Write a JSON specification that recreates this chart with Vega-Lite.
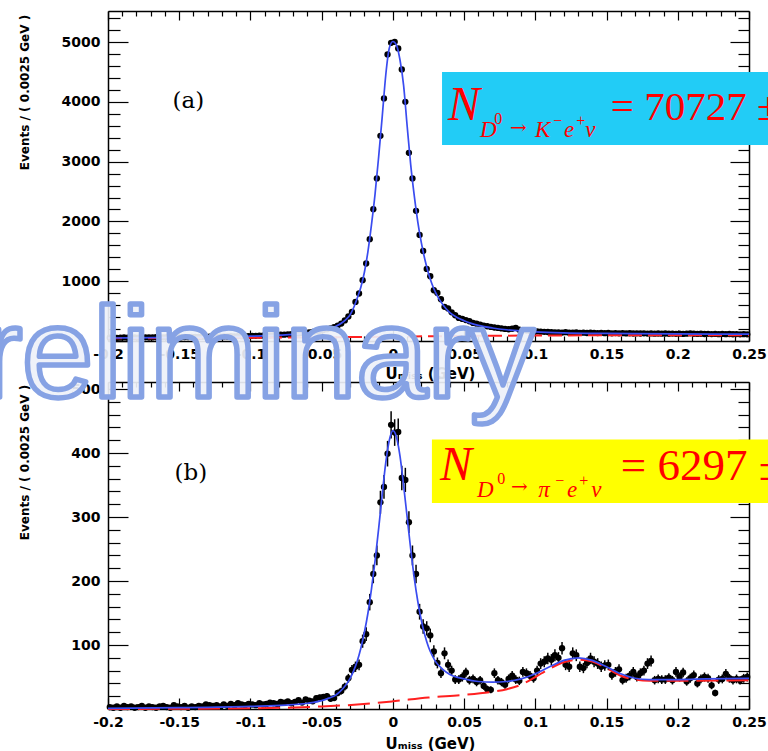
{
"$schema":"https://vega.github.io/schema/vega-lite/v6.json",
"autosize":{"type":"none"},
"width":641,"height":698,
"padding":{"left":108,"top":11,"right":19,"bottom":42},
"background":"white",
"config":{"view":{"stroke":null}},
"resolve":{"scale":{"y":"independent"},"axis":{"x":"independent","y":"independent"}},
"datasets":{
"one":[{}],
"a":[{"x":-0.19875,"y":55},{"x":-0.19625,"y":58},{"x":-0.19375,"y":52},{"x":-0.19125,"y":56},{"x":-0.18875,"y":60},{"x":-0.18625,"y":54},{"x":-0.18375,"y":57},{"x":-0.18125,"y":61},{"x":-0.17875,"y":56},{"x":-0.17625,"y":59},{"x":-0.17375,"y":62},{"x":-0.17125,"y":58},{"x":-0.16875,"y":60},{"x":-0.16625,"y":63},{"x":-0.16375,"y":59},{"x":-0.16125,"y":62},{"x":-0.15875,"y":65},{"x":-0.15625,"y":61},{"x":-0.15375,"y":64},{"x":-0.15125,"y":66},{"x":-0.14875,"y":63},{"x":-0.14625,"y":67},{"x":-0.14375,"y":65},{"x":-0.14125,"y":68},{"x":-0.13875,"y":70},{"x":-0.13625,"y":67},{"x":-0.13375,"y":71},{"x":-0.13125,"y":69},{"x":-0.12875,"y":73},{"x":-0.12625,"y":71},{"x":-0.12375,"y":75},{"x":-0.12125,"y":73},{"x":-0.11875,"y":77},{"x":-0.11625,"y":75},{"x":-0.11375,"y":79},{"x":-0.11125,"y":78},{"x":-0.10875,"y":82},{"x":-0.10625,"y":80},{"x":-0.10375,"y":84},{"x":-0.10125,"y":83},{"x":-0.09875,"y":87},{"x":-0.09625,"y":86},{"x":-0.09375,"y":90},{"x":-0.09125,"y":89},{"x":-0.08875,"y":94},{"x":-0.08625,"y":93},{"x":-0.08375,"y":98},{"x":-0.08125,"y":99},{"x":-0.07875,"y":104},{"x":-0.07625,"y":106},{"x":-0.07375,"y":111},{"x":-0.07125,"y":114},{"x":-0.06875,"y":120},{"x":-0.06625,"y":124},{"x":-0.06375,"y":131},{"x":-0.06125,"y":138},{"x":-0.05875,"y":145},{"x":-0.05625,"y":152},{"x":-0.05375,"y":160},{"x":-0.05125,"y":170},{"x":-0.04875,"y":182},{"x":-0.04625,"y":195},{"x":-0.04375,"y":212},{"x":-0.04125,"y":232},{"x":-0.03875,"y":258},{"x":-0.03625,"y":292},{"x":-0.03375,"y":345},{"x":-0.03125,"y":410},{"x":-0.02875,"y":486},{"x":-0.02625,"y":654},{"x":-0.02375,"y":794},{"x":-0.02125,"y":1017},{"x":-0.01875,"y":1296},{"x":-0.01625,"y":1703},{"x":-0.01375,"y":2205},{"x":-0.01125,"y":2719},{"x":-0.00875,"y":3432},{"x":-0.00625,"y":4058},{"x":-0.00375,"y":4794},{"x":-0.00125,"y":4988},{"x":0.00125,"y":5005},{"x":0.00375,"y":4894},{"x":0.00625,"y":4543},{"x":0.00875,"y":4001},{"x":0.01125,"y":3147},{"x":0.01375,"y":2719},{"x":0.01625,"y":2177},{"x":0.01875,"y":1775},{"x":0.02125,"y":1505},{"x":0.02375,"y":1205},{"x":0.02625,"y":1084},{"x":0.02875,"y":849},{"x":0.03125,"y":805},{"x":0.03375,"y":699},{"x":0.03625,"y":571},{"x":0.03875,"y":545},{"x":0.04125,"y":480},{"x":0.04375,"y":431},{"x":0.04625,"y":386},{"x":0.04875,"y":370},{"x":0.05125,"y":350},{"x":0.05375,"y":330},{"x":0.05625,"y":302},{"x":0.05875,"y":290},{"x":0.06125,"y":275},{"x":0.06375,"y":258},{"x":0.06625,"y":247},{"x":0.06875,"y":236},{"x":0.07125,"y":226},{"x":0.07375,"y":219},{"x":0.07625,"y":210},{"x":0.07875,"y":202},{"x":0.08125,"y":197},{"x":0.08375,"y":205},{"x":0.08625,"y":219},{"x":0.08875,"y":190},{"x":0.09125,"y":180},{"x":0.09375,"y":175},{"x":0.09625,"y":168},{"x":0.09875,"y":165},{"x":0.10125,"y":160},{"x":0.10375,"y":156},{"x":0.10625,"y":153},{"x":0.10875,"y":151},{"x":0.11125,"y":148},{"x":0.11375,"y":145},{"x":0.11625,"y":143},{"x":0.11875,"y":141},{"x":0.12125,"y":147},{"x":0.12375,"y":140},{"x":0.12625,"y":138},{"x":0.12875,"y":143},{"x":0.13125,"y":136},{"x":0.13375,"y":139},{"x":0.13625,"y":134},{"x":0.13875,"y":140},{"x":0.14125,"y":135},{"x":0.14375,"y":132},{"x":0.14625,"y":137},{"x":0.14875,"y":131},{"x":0.15125,"y":134},{"x":0.15375,"y":129},{"x":0.15625,"y":133},{"x":0.15875,"y":128},{"x":0.16125,"y":131},{"x":0.16375,"y":127},{"x":0.16625,"y":130},{"x":0.16875,"y":126},{"x":0.17125,"y":129},{"x":0.17375,"y":125},{"x":0.17625,"y":128},{"x":0.17875,"y":124},{"x":0.18125,"y":127},{"x":0.18375,"y":123},{"x":0.18625,"y":126},{"x":0.18875,"y":122},{"x":0.19125,"y":125},{"x":0.19375,"y":121},{"x":0.19625,"y":124},{"x":0.19875,"y":120},{"x":0.20125,"y":123},{"x":0.20375,"y":119},{"x":0.20625,"y":122},{"x":0.20875,"y":128},{"x":0.21125,"y":121},{"x":0.21375,"y":118},{"x":0.21625,"y":121},{"x":0.21875,"y":117},{"x":0.22125,"y":120},{"x":0.22375,"y":116},{"x":0.22625,"y":119},{"x":0.22875,"y":115},{"x":0.23125,"y":118},{"x":0.23375,"y":114},{"x":0.23625,"y":117},{"x":0.23875,"y":113},{"x":0.24125,"y":116},{"x":0.24375,"y":112},{"x":0.24625,"y":115},{"x":0.24875,"y":111}],
"afit":[{"x":-0.2,"y":50},{"x":-0.15,"y":60},{"x":-0.1,"y":80},{"x":-0.08,"y":97},{"x":-0.07,"y":110},{"x":-0.06,"y":135},{"x":-0.05,"y":168},{"x":-0.045,"y":198},{"x":-0.04,"y":245},{"x":-0.035,"y":318},{"x":-0.0325,"y":370},{"x":-0.03,"y":440},{"x":-0.0275,"y":560},{"x":-0.025,"y":720},{"x":-0.0225,"y":900},{"x":-0.02,"y":1150},{"x":-0.0175,"y":1500},{"x":-0.015,"y":1950},{"x":-0.0125,"y":2460},{"x":-0.01,"y":3080},{"x":-0.0075,"y":3750},{"x":-0.005,"y":4450},{"x":-0.0025,"y":4900},{"x":0,"y":5010},{"x":0.0025,"y":4950},{"x":0.005,"y":4700},{"x":0.0075,"y":4280},{"x":0.01,"y":3600},{"x":0.0125,"y":2950},{"x":0.015,"y":2430},{"x":0.0175,"y":1990},{"x":0.02,"y":1640},{"x":0.0225,"y":1360},{"x":0.025,"y":1130},{"x":0.0275,"y":950},{"x":0.03,"y":810},{"x":0.0325,"y":700},{"x":0.035,"y":610},{"x":0.0375,"y":535},{"x":0.04,"y":475},{"x":0.045,"y":395},{"x":0.05,"y":340},{"x":0.055,"y":295},{"x":0.06,"y":262},{"x":0.07,"y":218},{"x":0.08,"y":188},{"x":0.09,"y":168},{"x":0.1,"y":153},{"x":0.12,"y":136},{"x":0.15,"y":126},{"x":0.2,"y":119},{"x":0.25,"y":115}],
"abkg":[{"x":-0.2,"y":45},{"x":-0.1,"y":55},{"x":-0.05,"y":62},{"x":0,"y":72},{"x":0.05,"y":85},{"x":0.1,"y":92},{"x":0.15,"y":95},{"x":0.2,"y":96},{"x":0.25,"y":96}],
"b":[{"x":-0.19875,"y":3,"e":1.7},{"x":-0.19625,"y":2,"e":1.4},{"x":-0.19375,"y":4,"e":2},{"x":-0.19125,"y":2,"e":1.4},{"x":-0.18875,"y":5,"e":2.2},{"x":-0.18625,"y":3,"e":1.7},{"x":-0.18375,"y":4,"e":2},{"x":-0.18125,"y":2,"e":1.4},{"x":-0.17875,"y":3,"e":1.7},{"x":-0.17625,"y":5,"e":2.2},{"x":-0.17375,"y":2,"e":1.4},{"x":-0.17125,"y":4,"e":2},{"x":-0.16875,"y":3,"e":1.7},{"x":-0.16625,"y":2,"e":1.4},{"x":-0.16375,"y":4,"e":2},{"x":-0.16125,"y":5,"e":2.2},{"x":-0.15875,"y":3,"e":1.7},{"x":-0.15625,"y":2,"e":1.4},{"x":-0.15375,"y":6,"e":2.4},{"x":-0.15125,"y":4,"e":2},{"x":-0.14875,"y":3,"e":1.7},{"x":-0.14625,"y":5,"e":2.2},{"x":-0.14375,"y":2,"e":1.4},{"x":-0.14125,"y":4,"e":2},{"x":-0.13875,"y":3,"e":1.7},{"x":-0.13625,"y":5,"e":2.2},{"x":-0.13375,"y":4,"e":2},{"x":-0.13125,"y":7,"e":2.6},{"x":-0.12875,"y":6,"e":2.4},{"x":-0.12625,"y":5,"e":2.2},{"x":-0.12375,"y":6,"e":2.4},{"x":-0.12125,"y":4,"e":2},{"x":-0.11875,"y":7,"e":2.6},{"x":-0.11625,"y":5,"e":2.2},{"x":-0.11375,"y":8,"e":2.8},{"x":-0.11125,"y":6,"e":2.4},{"x":-0.10875,"y":9,"e":3},{"x":-0.10625,"y":7,"e":2.6},{"x":-0.10375,"y":6,"e":2.4},{"x":-0.10125,"y":8,"e":2.8},{"x":-0.09875,"y":7,"e":2.6},{"x":-0.09625,"y":6,"e":2.4},{"x":-0.09375,"y":9,"e":3},{"x":-0.09125,"y":7,"e":2.6},{"x":-0.08875,"y":8,"e":2.8},{"x":-0.08625,"y":10,"e":3.2},{"x":-0.08375,"y":9,"e":3},{"x":-0.08125,"y":8,"e":2.8},{"x":-0.07875,"y":11,"e":3.3},{"x":-0.07625,"y":10,"e":3.2},{"x":-0.07375,"y":12,"e":3.5},{"x":-0.07125,"y":9,"e":3},{"x":-0.06875,"y":11,"e":3.3},{"x":-0.06625,"y":14,"e":3.7},{"x":-0.06375,"y":10,"e":3.2},{"x":-0.06125,"y":15,"e":3.9},{"x":-0.05875,"y":13,"e":3.6},{"x":-0.05625,"y":12,"e":3.5},{"x":-0.05375,"y":17,"e":4.1},{"x":-0.05125,"y":18,"e":4.2},{"x":-0.04875,"y":19,"e":4.4},{"x":-0.04625,"y":20,"e":4.5},{"x":-0.04375,"y":16,"e":4},{"x":-0.04125,"y":17,"e":4.1},{"x":-0.03875,"y":25,"e":5},{"x":-0.03625,"y":28,"e":5.3},{"x":-0.03375,"y":35,"e":5.9},{"x":-0.03125,"y":48,"e":6.9},{"x":-0.02875,"y":61,"e":7.8},{"x":-0.02625,"y":66,"e":8.1},{"x":-0.02375,"y":69,"e":8.3},{"x":-0.02125,"y":106,"e":10.3},{"x":-0.01875,"y":117,"e":10.8},{"x":-0.01625,"y":167,"e":12.9},{"x":-0.01375,"y":211,"e":14.5},{"x":-0.01125,"y":240,"e":15.5},{"x":-0.00875,"y":323,"e":18},{"x":-0.00625,"y":347,"e":18.6},{"x":-0.00375,"y":399,"e":20},{"x":-0.00125,"y":444,"e":21.1},{"x":0.00125,"y":432,"e":20.8},{"x":0.00375,"y":433,"e":20.8},{"x":0.00625,"y":361,"e":19},{"x":0.00875,"y":358,"e":18.9},{"x":0.01125,"y":292,"e":17.1},{"x":0.01375,"y":240,"e":15.5},{"x":0.01625,"y":211,"e":14.5},{"x":0.01875,"y":152,"e":12.3},{"x":0.02125,"y":129,"e":11.4},{"x":0.02375,"y":126,"e":11.2},{"x":0.02625,"y":115,"e":10.7},{"x":0.02875,"y":90,"e":9.5},{"x":0.03125,"y":72,"e":8.5},{"x":0.03375,"y":56,"e":7.5},{"x":0.03625,"y":87,"e":9.3},{"x":0.03875,"y":69,"e":8.3},{"x":0.04125,"y":60,"e":7.7},{"x":0.04375,"y":46,"e":6.8},{"x":0.04625,"y":46,"e":6.8},{"x":0.04875,"y":50,"e":7.1},{"x":0.05125,"y":57,"e":7.5},{"x":0.05375,"y":45,"e":6.7},{"x":0.05625,"y":47,"e":6.9},{"x":0.05875,"y":42,"e":6.5},{"x":0.06125,"y":45,"e":6.7},{"x":0.06375,"y":36,"e":6},{"x":0.06625,"y":31,"e":5.6},{"x":0.06875,"y":30,"e":5.5},{"x":0.07125,"y":56,"e":7.5},{"x":0.07375,"y":45,"e":6.7},{"x":0.07625,"y":42,"e":6.5},{"x":0.07875,"y":38,"e":6.2},{"x":0.08125,"y":47,"e":6.9},{"x":0.08375,"y":52,"e":7.2},{"x":0.08625,"y":46,"e":6.8},{"x":0.08875,"y":44,"e":6.6},{"x":0.09125,"y":58,"e":7.6},{"x":0.09375,"y":56,"e":7.5},{"x":0.09625,"y":52,"e":7.2},{"x":0.09875,"y":48,"e":6.9},{"x":0.10125,"y":60,"e":7.7},{"x":0.10375,"y":71,"e":8.4},{"x":0.10625,"y":74,"e":8.6},{"x":0.10875,"y":79,"e":8.9},{"x":0.11125,"y":77,"e":8.8},{"x":0.11375,"y":84,"e":9.2},{"x":0.11625,"y":80,"e":8.9},{"x":0.11875,"y":95,"e":9.7},{"x":0.12125,"y":69,"e":8.3},{"x":0.12375,"y":66,"e":8.1},{"x":0.12625,"y":87,"e":9.3},{"x":0.12875,"y":84,"e":9.2},{"x":0.13125,"y":66,"e":8.1},{"x":0.13375,"y":64,"e":8},{"x":0.13625,"y":72,"e":8.5},{"x":0.13875,"y":79,"e":8.9},{"x":0.14125,"y":74,"e":8.6},{"x":0.14375,"y":71,"e":8.4},{"x":0.14625,"y":66,"e":8.1},{"x":0.14875,"y":68,"e":8.2},{"x":0.15125,"y":69,"e":8.3},{"x":0.15375,"y":53,"e":7.3},{"x":0.15625,"y":58,"e":7.6},{"x":0.15875,"y":62,"e":7.9},{"x":0.16125,"y":45,"e":6.7},{"x":0.16375,"y":48,"e":6.9},{"x":0.16625,"y":52,"e":7.2},{"x":0.16875,"y":58,"e":7.6},{"x":0.17125,"y":50,"e":7.1},{"x":0.17375,"y":56,"e":7.5},{"x":0.17625,"y":60,"e":7.7},{"x":0.17875,"y":71,"e":8.4},{"x":0.18125,"y":75,"e":8.7},{"x":0.18375,"y":45,"e":6.7},{"x":0.18625,"y":47,"e":6.9},{"x":0.18875,"y":46,"e":6.8},{"x":0.19125,"y":46,"e":6.8},{"x":0.19375,"y":49,"e":7},{"x":0.19625,"y":45,"e":6.7},{"x":0.19875,"y":58,"e":7.6},{"x":0.20125,"y":50,"e":7.1},{"x":0.20375,"y":57,"e":7.5},{"x":0.20625,"y":43,"e":6.6},{"x":0.20875,"y":48,"e":6.9},{"x":0.21125,"y":53,"e":7.3},{"x":0.21375,"y":40,"e":6.3},{"x":0.21625,"y":47,"e":6.9},{"x":0.21875,"y":50,"e":7.1},{"x":0.22125,"y":48,"e":6.9},{"x":0.22375,"y":37,"e":6.1},{"x":0.22625,"y":25,"e":5},{"x":0.22875,"y":46,"e":6.8},{"x":0.23125,"y":47,"e":6.9},{"x":0.23375,"y":55,"e":7.4},{"x":0.23625,"y":48,"e":6.9},{"x":0.23875,"y":45,"e":6.7},{"x":0.24125,"y":47,"e":6.9},{"x":0.24375,"y":45,"e":6.7},{"x":0.24625,"y":48,"e":6.9},{"x":0.24875,"y":50,"e":7.1}],
"bfit":[{"x":-0.2,"y":1},{"x":-0.15,"y":2},{"x":-0.1,"y":4},{"x":-0.075,"y":6},{"x":-0.06,"y":9},{"x":-0.05,"y":13},{"x":-0.045,"y":17},{"x":-0.04,"y":22},{"x":-0.035,"y":32},{"x":-0.03,"y":48},{"x":-0.0275,"y":60},{"x":-0.025,"y":75},{"x":-0.0225,"y":95},{"x":-0.02,"y":120},{"x":-0.0175,"y":150},{"x":-0.015,"y":188},{"x":-0.0125,"y":232},{"x":-0.01,"y":282},{"x":-0.0075,"y":335},{"x":-0.005,"y":385},{"x":-0.0025,"y":420},{"x":0,"y":435},{"x":0.0025,"y":425},{"x":0.005,"y":395},{"x":0.0075,"y":350},{"x":0.01,"y":300},{"x":0.0125,"y":250},{"x":0.015,"y":205},{"x":0.0175,"y":168},{"x":0.02,"y":138},{"x":0.0225,"y":115},{"x":0.025,"y":97},{"x":0.0275,"y":84},{"x":0.03,"y":74},{"x":0.035,"y":62},{"x":0.04,"y":54},{"x":0.05,"y":47},{"x":0.06,"y":43},{"x":0.07,"y":42},{"x":0.08,"y":43},{"x":0.09,"y":47},{"x":0.1,"y":55},{"x":0.11,"y":66},{"x":0.12,"y":76},{"x":0.13,"y":80},{"x":0.14,"y":76},{"x":0.15,"y":66},{"x":0.16,"y":55},{"x":0.17,"y":48},{"x":0.18,"y":46},{"x":0.2,"y":46},{"x":0.22,"y":47},{"x":0.25,"y":48}],
"bbkg":[{"x":-0.2,"y":0},{"x":-0.1,"y":1},{"x":-0.05,"y":4},{"x":-0.025,"y":7},{"x":0,"y":12},{"x":0.025,"y":18},{"x":0.05,"y":22},{"x":0.07,"y":27},{"x":0.08,"y":31},{"x":0.09,"y":38},{"x":0.1,"y":50},{"x":0.11,"y":63},{"x":0.12,"y":73},{"x":0.13,"y":77},{"x":0.14,"y":74},{"x":0.15,"y":64},{"x":0.16,"y":52},{"x":0.17,"y":46},{"x":0.18,"y":44},{"x":0.2,"y":44},{"x":0.25,"y":45}]
},
"layer":[
{"data":{"name":"a"},"mark":{"type":"point","filled":true,"color":"black","size":40,"opacity":1},
 "encoding":{
  "x":{"field":"x","type":"quantitative","scale":{"domain":[-0.2,0.25],"nice":false,"zero":false},
   "axis":{"orient":"bottom","offset":-368,"values":[-0.2,-0.19,-0.18,-0.17,-0.16,-0.15,-0.14,-0.13,-0.12,-0.11,-0.1,-0.09,-0.08,-0.07,-0.06,-0.05,-0.04,-0.03,-0.02,-0.01,0,0.01,0.02,0.03,0.04,0.05,0.06,0.07,0.08,0.09,0.1,0.11,0.12,0.13,0.14,0.15,0.16,0.17,0.18,0.19,0.2,0.21,0.22,0.23,0.24,0.25],
    "format":"~g","labelExpr":"abs(datum.value*20-round(datum.value*20))<0.001 ? replace(datum.label,'−','-') : ''",
    "tickSize":{"condition":{"test":"abs(datum.value*20-round(datum.value*20))<0.001","value":-11},"value":-5},
    "labelPadding":17,"labelFlush":false,"labelOverlap":false,"labelFont":"DejaVu Sans","labelFontWeight":"bold","labelFontSize":14,"labelColor":"black",
    "tickColor":"black","tickWidth":1.2,"domainColor":"black","domainWidth":1.5,"grid":false,
    "title":"Uₘᵢₛₛ (GeV)","titleFont":"DejaVu Sans","titleFontWeight":"bold","titleFontSize":15,"titleColor":"black","titleX":322,"titleY":37,"titleAlign":"center","titleBaseline":"alphabetic"}},
  "y":{"field":"y","type":"quantitative","scale":{"domain":[0,5520],"range":[330,0],"nice":false},
   "axis":{"orient":"left","values":[0,200,400,600,800,1000,1200,1400,1600,1800,2000,2200,2400,2600,2800,3000,3200,3400,3600,3800,4000,4200,4400,4600,4800,5000,5200,5400],
    "format":"d","labelExpr":"datum.value % 1000 === 0 && datum.value > 0 ? datum.label : ''",
    "tickSize":{"condition":{"test":"datum.value % 1000 === 0","value":-20},"value":-12},
    "labelPadding":28,"labelFlush":false,"labelOverlap":false,"labelFont":"DejaVu Sans","labelFontWeight":"bold","labelFontSize":14,"labelColor":"black",
    "tickColor":"black","tickWidth":1.2,"domainColor":"black","domainWidth":1.5,"grid":false,
    "title":"Events / ( 0.0025 GeV )","titleFont":"DejaVu Sans","titleFontWeight":"bold","titleFontSize":12,"titleColor":"black","titleAngle":270,"titleX":-84,"titleY":81,"titleAlign":"center","titleBaseline":"middle"}}}},
{"data":{"name":"abkg"},"mark":{"type":"line","color":"#ff2020","strokeWidth":2,"strokeDash":[14,6],"interpolate":"monotone"},
 "encoding":{"x":{"field":"x","type":"quantitative","axis":null},"y":{"field":"y","type":"quantitative","scale":{"domain":[0,5520],"range":[330,0],"nice":false},"axis":null}}},
{"data":{"name":"afit"},"mark":{"type":"line","color":"#3a4cf0","strokeWidth":1.7,"interpolate":"monotone"},
 "encoding":{
  "x":{"field":"x","type":"quantitative","axis":{"orient":"top","values":[-0.2,-0.19,-0.18,-0.17,-0.16,-0.15,-0.14,-0.13,-0.12,-0.11,-0.1,-0.09,-0.08,-0.07,-0.06,-0.05,-0.04,-0.03,-0.02,-0.01,0,0.01,0.02,0.03,0.04,0.05,0.06,0.07,0.08,0.09,0.1,0.11,0.12,0.13,0.14,0.15,0.16,0.17,0.18,0.19,0.2,0.21,0.22,0.23,0.24,0.25],"labels":false,"tickSize":{"condition":{"test":"abs(datum.value*20-round(datum.value*20))<0.001","value":-9},"value":-5},"tickColor":"black","tickWidth":1.2,"domainColor":"black","domainWidth":1.5,"grid":false,"title":null}},
  "y":{"field":"y","type":"quantitative","scale":{"domain":[0,5520],"range":[330,0],"nice":false},"axis":{"orient":"right","values":[0,200,400,600,800,1000,1200,1400,1600,1800,2000,2200,2400,2600,2800,3000,3200,3400,3600,3800,4000,4200,4400,4600,4800,5000,5200,5400],"labels":false,"tickSize":{"condition":{"test":"datum.value % 1000 === 0","value":-19},"value":-11},"tickColor":"black","tickWidth":1.2,"domainColor":"black","domainWidth":1.5,"grid":false,"title":null}}}},
{"data":{"name":"one"},"mark":{"type":"rect","color":"#22ccf6"},
 "encoding":{"x":{"datum":0.0345,"type":"quantitative","axis":null},"x2":{"datum":0.27},"y":{"datum":4498,"type":"quantitative","scale":{"domain":[0,5520],"range":[330,0],"nice":false},"axis":null},"y2":{"datum":3277}}},
{"data":{"name":"one"},"mark":{"type":"text","text":"N","font":"Liberation Serif","fontStyle":"italic","fontSize":48,"color":"#ff0000","align":"left","baseline":"alphabetic"},
 "encoding":{"x":{"datum":0.0387,"type":"quantitative","axis":null},"y":{"datum":3695,"type":"quantitative","scale":{"domain":[0,5520],"range":[330,0],"nice":false},"axis":null}}},
{"data":{"name":"one"},"mark":{"type":"text","text":"D","font":"Liberation Serif","fontStyle":"italic","fontSize":23,"color":"#ff0000","align":"left","baseline":"alphabetic"},
 "encoding":{"x":{"datum":0.0612,"type":"quantitative","axis":null},"y":{"datum":3410,"type":"quantitative","scale":{"domain":[0,5520],"range":[330,0],"nice":false},"axis":null}}},
{"data":{"name":"one"},"mark":{"type":"text","text":"0","font":"Liberation Serif","fontSize":16,"color":"#ff0000","align":"left","baseline":"alphabetic"},
 "encoding":{"x":{"datum":0.0712,"type":"quantitative","axis":null},"y":{"datum":3628,"type":"quantitative","scale":{"domain":[0,5520],"range":[330,0],"nice":false},"axis":null}}},
{"data":{"name":"one"},"mark":{"type":"text","text":"→","font":"DejaVu Serif","fontSize":20,"color":"#ff0000","align":"left","baseline":"alphabetic"},
 "encoding":{"x":{"datum":0.0823,"type":"quantitative","axis":null},"y":{"datum":3460,"type":"quantitative","scale":{"domain":[0,5520],"range":[330,0],"nice":false},"axis":null}}},
{"data":{"name":"one"},"mark":{"type":"text","text":"K","font":"Liberation Serif","fontStyle":"italic","fontSize":23,"color":"#ff0000","align":"left","baseline":"alphabetic"},
 "encoding":{"x":{"datum":0.0998,"type":"quantitative","axis":null},"y":{"datum":3410,"type":"quantitative","scale":{"domain":[0,5520],"range":[330,0],"nice":false},"axis":null}}},
{"data":{"name":"one"},"mark":{"type":"text","text":"−","font":"Liberation Serif","fontSize":16,"color":"#ff0000","align":"left","baseline":"alphabetic"},
 "encoding":{"x":{"datum":0.1125,"type":"quantitative","axis":null},"y":{"datum":3594,"type":"quantitative","scale":{"domain":[0,5520],"range":[330,0],"nice":false},"axis":null}}},
{"data":{"name":"one"},"mark":{"type":"text","text":"e","font":"Liberation Serif","fontStyle":"italic","fontSize":23,"color":"#ff0000","align":"left","baseline":"alphabetic"},
 "encoding":{"x":{"datum":0.1202,"type":"quantitative","axis":null},"y":{"datum":3410,"type":"quantitative","scale":{"domain":[0,5520],"range":[330,0],"nice":false},"axis":null}}},
{"data":{"name":"one"},"mark":{"type":"text","text":"+","font":"Liberation Serif","fontSize":16,"color":"#ff0000","align":"left","baseline":"alphabetic"},
 "encoding":{"x":{"datum":0.1287,"type":"quantitative","axis":null},"y":{"datum":3594,"type":"quantitative","scale":{"domain":[0,5520],"range":[330,0],"nice":false},"axis":null}}},
{"data":{"name":"one"},"mark":{"type":"text","text":"ν","font":"Liberation Serif","fontStyle":"italic","fontSize":23,"color":"#ff0000","align":"left","baseline":"alphabetic"},
 "encoding":{"x":{"datum":0.1350,"type":"quantitative","axis":null},"y":{"datum":3410,"type":"quantitative","scale":{"domain":[0,5520],"range":[330,0],"nice":false},"axis":null}}},
{"data":{"name":"one"},"mark":{"type":"text","text":"= 70727 ±","font":"Liberation Serif","fontSize":41,"color":"#ff0000","align":"left","baseline":"alphabetic"},
 "encoding":{"x":{"datum":0.1530,"type":"quantitative","axis":null},"y":{"datum":3695,"type":"quantitative","scale":{"domain":[0,5520],"range":[330,0],"nice":false},"axis":null}}},
{"data":{"name":"one"},"mark":{"type":"text","text":"(a)","font":"DejaVu Serif","fontSize":23,"color":"black","align":"left","baseline":"alphabetic"},
 "encoding":{"x":{"datum":-0.1547,"type":"quantitative","axis":null},"y":{"datum":3895,"type":"quantitative","scale":{"domain":[0,5520],"range":[330,0],"nice":false},"axis":null}}},
{"data":{"name":"b"},"mark":{"type":"errorbar","ticks":false,"thickness":1.5,"color":"black"},
 "encoding":{"x":{"field":"x","type":"quantitative","axis":null},"y":{"field":"y","type":"quantitative","scale":{"domain":[0,511],"range":[698,371],"nice":false},"axis":null},"yError":{"field":"e"}}},
{"data":{"name":"b"},"mark":{"type":"point","filled":true,"color":"black","size":40,"opacity":1},
 "encoding":{
  "x":{"field":"x","type":"quantitative",
   "axis":{"orient":"bottom","values":[-0.2,-0.19,-0.18,-0.17,-0.16,-0.15,-0.14,-0.13,-0.12,-0.11,-0.1,-0.09,-0.08,-0.07,-0.06,-0.05,-0.04,-0.03,-0.02,-0.01,0,0.01,0.02,0.03,0.04,0.05,0.06,0.07,0.08,0.09,0.1,0.11,0.12,0.13,0.14,0.15,0.16,0.17,0.18,0.19,0.2,0.21,0.22,0.23,0.24,0.25],
    "format":"~g","labelExpr":"abs(datum.value*20-round(datum.value*20))<0.001 ? replace(datum.label,'−','-') : ''",
    "tickSize":{"condition":{"test":"abs(datum.value*20-round(datum.value*20))<0.001","value":-11},"value":-5},
    "labelPadding":17,"labelFlush":false,"labelOverlap":false,"labelFont":"DejaVu Sans","labelFontWeight":"bold","labelFontSize":14,"labelColor":"black",
    "tickColor":"black","tickWidth":1.2,"domainColor":"black","domainWidth":1.5,"grid":false,
    "title":"Uₘᵢₛₛ (GeV)","titleFont":"DejaVu Sans","titleFontWeight":"bold","titleFontSize":15,"titleColor":"black","titleX":322,"titleY":39,"titleAlign":"center","titleBaseline":"alphabetic"}},
  "y":{"field":"y","type":"quantitative","scale":{"domain":[0,511],"range":[698,371],"nice":false},
   "axis":{"orient":"left","values":[0,20,40,60,80,100,120,140,160,180,200,220,240,260,280,300,320,340,360,380,400,420,440,460,480,500],
    "format":"d","labelExpr":"datum.value % 100 === 0 && datum.value > 0 ? datum.label : ''",
    "tickSize":{"condition":{"test":"datum.value % 100 === 0","value":-20},"value":-12},
    "labelPadding":28,"labelFlush":false,"labelOverlap":false,"labelFont":"DejaVu Sans","labelFontWeight":"bold","labelFontSize":14,"labelColor":"black",
    "tickColor":"black","tickWidth":1.2,"domainColor":"black","domainWidth":1.5,"grid":false,
    "title":"Events / ( 0.0025 GeV )","titleFont":"DejaVu Sans","titleFontWeight":"bold","titleFontSize":12,"titleColor":"black","titleAngle":270,"titleX":-84,"titleY":451,"titleAlign":"center","titleBaseline":"middle"}}}},
{"data":{"name":"bbkg"},"mark":{"type":"line","color":"#ff2020","strokeWidth":2,"strokeDash":[22,8],"interpolate":"monotone"},
 "encoding":{"x":{"field":"x","type":"quantitative","axis":null},"y":{"field":"y","type":"quantitative","scale":{"domain":[0,511],"range":[698,371],"nice":false},"axis":null}}},
{"data":{"name":"bfit"},"mark":{"type":"line","color":"#3a4cf0","strokeWidth":1.7,"interpolate":"monotone"},
 "encoding":{
  "x":{"field":"x","type":"quantitative","axis":{"orient":"top","offset":-371,"values":[-0.2,-0.19,-0.18,-0.17,-0.16,-0.15,-0.14,-0.13,-0.12,-0.11,-0.1,-0.09,-0.08,-0.07,-0.06,-0.05,-0.04,-0.03,-0.02,-0.01,0,0.01,0.02,0.03,0.04,0.05,0.06,0.07,0.08,0.09,0.1,0.11,0.12,0.13,0.14,0.15,0.16,0.17,0.18,0.19,0.2,0.21,0.22,0.23,0.24,0.25],"labels":false,"tickSize":{"condition":{"test":"abs(datum.value*20-round(datum.value*20))<0.001","value":-9},"value":-5},"tickColor":"black","tickWidth":1.2,"domainColor":"black","domainWidth":1.5,"grid":false,"title":null}},
  "y":{"field":"y","type":"quantitative","scale":{"domain":[0,511],"range":[698,371],"nice":false},"axis":{"orient":"right","values":[0,20,40,60,80,100,120,140,160,180,200,220,240,260,280,300,320,340,360,380,400,420,440,460,480,500],"labels":false,"tickSize":{"condition":{"test":"datum.value % 100 === 0","value":-19},"value":-11},"tickColor":"black","tickWidth":1.2,"domainColor":"black","domainWidth":1.5,"grid":false,"title":null}}}},
{"data":{"name":"one"},"mark":{"type":"rect","color":"#ffff00"},
 "encoding":{"x":{"datum":0.0274,"type":"quantitative","axis":null},"x2":{"datum":0.27},"y":{"datum":421,"type":"quantitative","scale":{"domain":[0,511],"range":[698,371],"nice":false},"axis":null},"y2":{"datum":322}}},
{"data":{"name":"one"},"mark":{"type":"text","text":"N","font":"Liberation Serif","fontStyle":"italic","fontSize":48,"color":"#ff0000","align":"left","baseline":"alphabetic"},
 "encoding":{"x":{"datum":0.0330,"type":"quantitative","axis":null},"y":{"datum":358,"type":"quantitative","scale":{"domain":[0,511],"range":[698,371],"nice":false},"axis":null}}},
{"data":{"name":"one"},"mark":{"type":"text","text":"D","font":"Liberation Serif","fontStyle":"italic","fontSize":23,"color":"#ff0000","align":"left","baseline":"alphabetic"},
 "encoding":{"x":{"datum":0.0591,"type":"quantitative","axis":null},"y":{"datum":332,"type":"quantitative","scale":{"domain":[0,511],"range":[698,371],"nice":false},"axis":null}}},
{"data":{"name":"one"},"mark":{"type":"text","text":"0","font":"Liberation Serif","fontSize":16,"color":"#ff0000","align":"left","baseline":"alphabetic"},
 "encoding":{"x":{"datum":0.0733,"type":"quantitative","axis":null},"y":{"datum":352,"type":"quantitative","scale":{"domain":[0,511],"range":[698,371],"nice":false},"axis":null}}},
{"data":{"name":"one"},"mark":{"type":"text","text":"→","font":"DejaVu Serif","fontSize":20,"color":"#ff0000","align":"left","baseline":"alphabetic"},
 "encoding":{"x":{"datum":0.0830,"type":"quantitative","axis":null},"y":{"datum":337,"type":"quantitative","scale":{"domain":[0,511],"range":[698,371],"nice":false},"axis":null}}},
{"data":{"name":"one"},"mark":{"type":"text","text":"π","font":"Liberation Serif","fontStyle":"italic","fontSize":23,"color":"#ff0000","align":"left","baseline":"alphabetic"},
 "encoding":{"x":{"datum":0.1020,"type":"quantitative","axis":null},"y":{"datum":332,"type":"quantitative","scale":{"domain":[0,511],"range":[698,371],"nice":false},"axis":null}}},
{"data":{"name":"one"},"mark":{"type":"text","text":"−","font":"Liberation Serif","fontSize":16,"color":"#ff0000","align":"left","baseline":"alphabetic"},
 "encoding":{"x":{"datum":0.1139,"type":"quantitative","axis":null},"y":{"datum":349,"type":"quantitative","scale":{"domain":[0,511],"range":[698,371],"nice":false},"axis":null}}},
{"data":{"name":"one"},"mark":{"type":"text","text":"e","font":"Liberation Serif","fontStyle":"italic","fontSize":23,"color":"#ff0000","align":"left","baseline":"alphabetic"},
 "encoding":{"x":{"datum":0.1223,"type":"quantitative","axis":null},"y":{"datum":332,"type":"quantitative","scale":{"domain":[0,511],"range":[698,371],"nice":false},"axis":null}}},
{"data":{"name":"one"},"mark":{"type":"text","text":"+","font":"Liberation Serif","fontSize":16,"color":"#ff0000","align":"left","baseline":"alphabetic"},
 "encoding":{"x":{"datum":0.1308,"type":"quantitative","axis":null},"y":{"datum":349,"type":"quantitative","scale":{"domain":[0,511],"range":[698,371],"nice":false},"axis":null}}},
{"data":{"name":"one"},"mark":{"type":"text","text":"ν","font":"Liberation Serif","fontStyle":"italic","fontSize":23,"color":"#ff0000","align":"left","baseline":"alphabetic"},
 "encoding":{"x":{"datum":0.1392,"type":"quantitative","axis":null},"y":{"datum":332,"type":"quantitative","scale":{"domain":[0,511],"range":[698,371],"nice":false},"axis":null}}},
{"data":{"name":"one"},"mark":{"type":"text","text":"= 6297 ±","font":"Liberation Serif","fontSize":45,"color":"#ff0000","align":"left","baseline":"alphabetic"},
 "encoding":{"x":{"datum":0.1600,"type":"quantitative","axis":null},"y":{"datum":358,"type":"quantitative","scale":{"domain":[0,511],"range":[698,371],"nice":false},"axis":null}}},
{"data":{"name":"one"},"mark":{"type":"text","text":"(b)","font":"DejaVu Serif","fontSize":23,"color":"black","align":"left","baseline":"alphabetic"},
 "encoding":{"x":{"datum":-0.1533,"type":"quantitative","axis":null},"y":{"datum":358,"type":"quantitative","scale":{"domain":[0,511],"range":[698,371],"nice":false},"axis":null}}},
{"data":{"name":"one"},"mark":{"type":"text","text":"Preliminary","font":"Liberation Sans","fontSize":128,"fill":"#eef1f9","fillOpacity":0.92,"stroke":"#86a2e4","strokeWidth":5.5,"strokeJoin":"round","align":"left","baseline":"alphabetic"},
 "encoding":{"x":{"datum":-0.3502,"type":"quantitative","axis":null},"y":{"datum":487,"type":"quantitative","scale":{"domain":[0,511],"range":[698,371],"nice":false},"axis":null}}}
]
}
